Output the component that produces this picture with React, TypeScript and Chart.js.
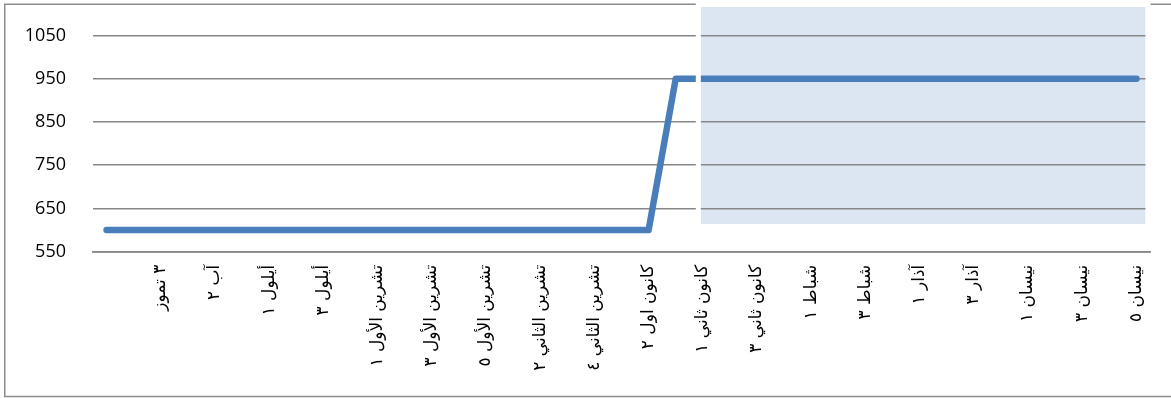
import { useEffect, useRef } from "react";
import { Chart, registerables } from "chart.js";

Chart.register(...registerables);

// Weekly categories (month + week number); every second one carries a visible label.
const weeks = [
  "١ تموز",
  "٢ تموز",
  "٣ تموز",
  "آب ١",
  "آب ٢",
  "آب ٣",
  "أيلول ١",
  "أيلول ٢",
  "أيلول ٣",
  "أيلول ٤",
  "تشرين الأول ١",
  "تشرين الأول ٢",
  "تشرين الأول ٣",
  "تشرين الأول ٤",
  "تشرين الأول ٥",
  "تشرين الثاني ١",
  "تشرين الثاني ٢",
  "تشرين الثاني ٣",
  "تشرين الثاني ٤",
  "كانون اول ١",
  "كانون اول ٢",
  "كانون اول ٣",
  "كانون ثاني ١",
  "كانون ثاني ٢",
  "كانون ثاني ٣",
  "كانون ثاني ٤",
  "شباط ١",
  "شباط ٢",
  "شباط ٣",
  "شباط ٤",
  "آذار ١",
  "آذار ٢",
  "آذار ٣",
  "آذار ٤",
  "نيسان ١",
  "نيسان ٢",
  "نيسان ٣",
  "نيسان ٤",
  "نيسان ٥",
];

// Weekly level.
const levels = [
  600, 600, 600, 600, 600, 600, 600, 600, 600, 600,
  600, 600, 600, 600, 600, 600, 600, 600, 600, 600,
  600, 950, 950, 950, 950, 950, 950, 950, 950, 950,
  950, 950, 950, 950, 950, 950, 950, 950, 950,
];

// Value axis.
const yTicks = [550, 650, 750, 850, 950, 1050];
const yMin = 550;
const yMax = 1116;

// Tick labels shown: every second week, starting from the third.
const firstLabelIndex = 2;
const labelStep = 2;

// Highlighted period: from this week to the end, above this value.
const shadeStartIndex = 22;
const shadeFloor = 614;

const LINE_BLUE = "#4a7ebb";
const SHADE_BLUE = "#dce6f2";
const GRID_GREY = "#878787";

// left edge of the highlighted band, just before the week's centre
function shadeLeft(chart: any) {
  return chart.scales.x.getPixelForValue(shadeStartIndex) - 2;
}

const framePlugin = {
  id: "frameAndShade",
  beforeDraw(chart: any) {
    const { ctx, chartArea, scales } = chart;
    ctx.save();
    // outer chart frame
    ctx.strokeStyle = "#8c8c8c";
    ctx.lineWidth = 1.5;
    ctx.strokeRect(4.75, 4.25, chart.width + 20, 392.25);
    // highlighted period fill
    const x0 = shadeLeft(chart);
    const y1 = scales.y.getPixelForValue(shadeFloor);
    ctx.fillStyle = SHADE_BLUE;
    ctx.fillRect(x0, chartArea.top, chartArea.right - 4.5 - x0, y1 - chartArea.top);
    ctx.restore();
  },
  afterDatasetsDraw(chart: any) {
    const { ctx, chartArea, scales } = chart;
    const x0 = shadeLeft(chart);
    const y1 = scales.y.getPixelForValue(shadeFloor);
    ctx.save();
    // white outline around the highlighted period
    ctx.strokeStyle = "#ffffff";
    ctx.lineWidth = 5;
    ctx.strokeRect(
      x0 - 2.5,
      chartArea.top - 2.5,
      chartArea.right - 4.5 - x0 + 5,
      y1 - chartArea.top + 5
    );
    ctx.restore();
  },
};

export default function App() {
  const canvasRef = useRef<HTMLCanvasElement | null>(null);

  useEffect(() => {
    const canvas = canvasRef.current;
    if (!canvas) return;
    const chart = new Chart(canvas, {
      type: "line",
      data: {
        labels: weeks,
        datasets: [
          {
            data: levels,
            borderColor: LINE_BLUE,
            backgroundColor: LINE_BLUE,
            borderWidth: 6.5,
            borderCapStyle: "round",
            borderJoinStyle: "round",
            pointRadius: 0,
            pointHoverRadius: 0,
            tension: 0,
            fill: false,
          },
        ],
      },
      options: {
        animation: false,
        responsive: false,
        devicePixelRatio: 1,
        layout: { padding: { top: 7, right: 21, bottom: 0, left: 0 } },
        plugins: {
          legend: { display: false },
          tooltip: { enabled: false },
        },
        scales: {
          x: {
            type: "category",
            offset: true,
            grid: { display: false, drawTicks: false },
            border: { display: true, color: GRID_GREY, width: 1.8 },
            ticks: {
              autoSkip: false,
              minRotation: 90,
              maxRotation: 90,
              padding: 13,
              color: "#000000",
              font: { family: "'DejaVu Sans'", size: 17 },
              callback: (_v: any, i: number) =>
                i >= firstLabelIndex && (i - firstLabelIndex) % labelStep === 0
                  ? weeks[i]
                  : "",
            },
            afterFit: (scale: any) => {
              scale.height = 146.3;
            },
          },
          y: {
            min: yMin,
            max: yMax,
            grid: {
              color: GRID_GREY,
              lineWidth: 1.5,
              drawTicks: true,
              tickLength: 27,
              tickColor: "rgba(0,0,0,0)",
            },
            border: { display: false },
            ticks: {
              padding: 0,
              color: "#000000",
              font: { family: "'Open Sans'", size: 18, lineHeight: 0.7 },
              callback: (v: any) => String(v),
            },
            afterBuildTicks: (scale: any) => {
              scale.ticks = yTicks.map((v) => ({ value: v }));
            },
            afterFit: (scale: any) => {
              scale.width = 93;
            },
          },
        },
      },
      plugins: [framePlugin],
    });
    return () => chart.destroy();
  }, []);

  return (
    <div style={{ position: "absolute", left: 0, top: 0, width: 1171, height: 398, background: "#ffffff" }}>
      <canvas ref={canvasRef} width={1171} height={398} />
    </div>
  );
}
